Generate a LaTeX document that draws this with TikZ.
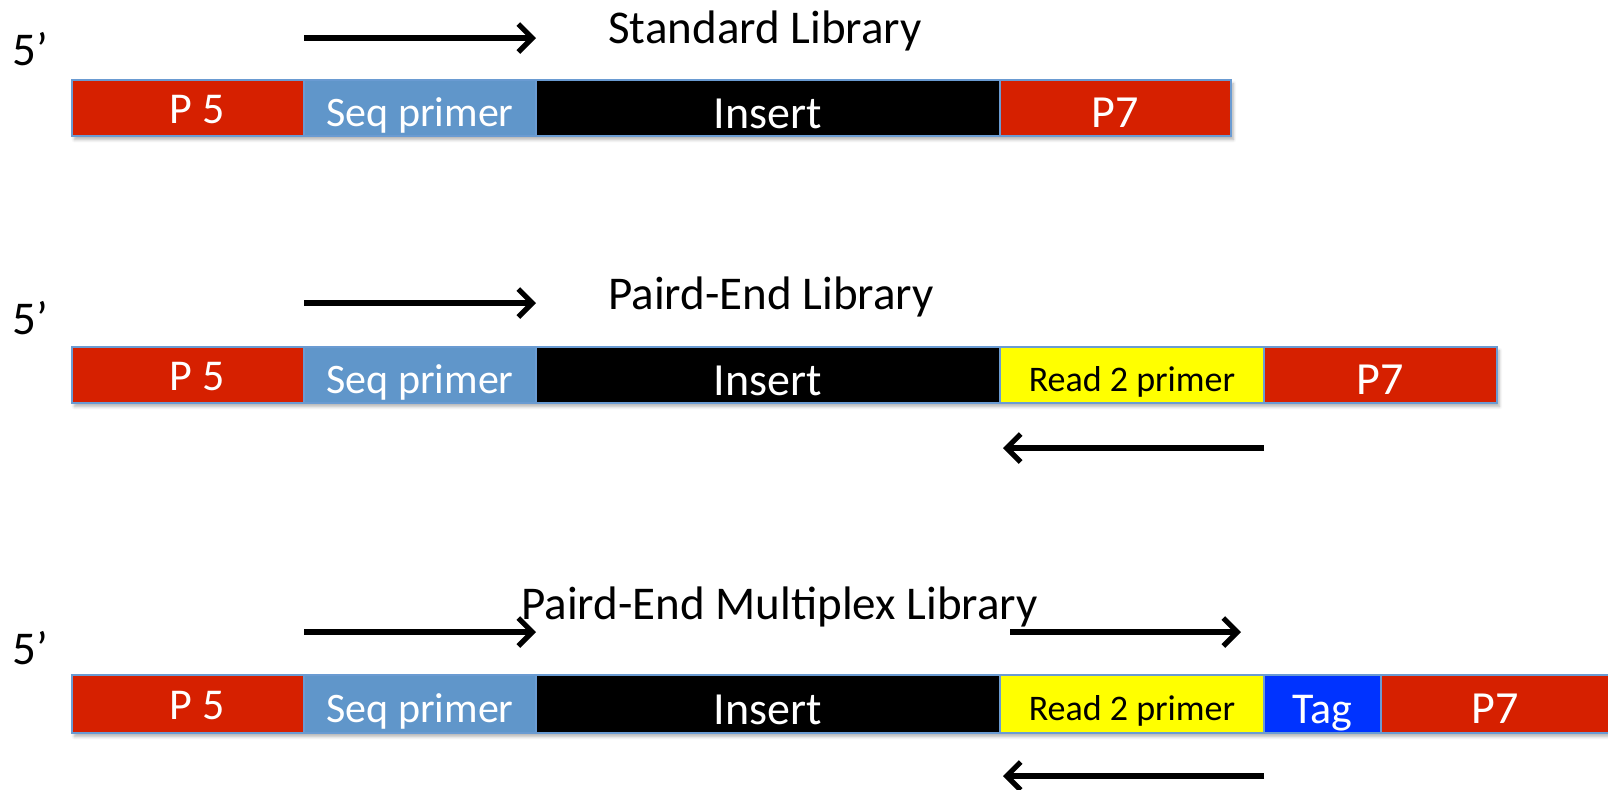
\documentclass[tikz,border=0pt]{standalone}
\usepackage{fontspec}
\setmainfont{Carlito}
\usetikzlibrary{arrows.meta,shadows.blur}
\definecolor{p5red}{RGB}{214,32,0}
\definecolor{seqblue}{RGB}{96,150,202}
\definecolor{tagblue}{RGB}{0,51,255}
\definecolor{edgeblue}{RGB}{106,155,210}
\definecolor{rdyellow}{RGB}{255,255,0}
\pgfdeclarelayer{bg}
\pgfsetlayers{bg,main}
\begin{document}
\begin{tikzpicture}[x=0.5pt,y=-0.5pt,
  seg/.style={draw=edgeblue, line width=0.9pt, minimum height=28pt, inner sep=0pt,
    outer sep=0pt, anchor=west, text=white, text height=20pt, text depth=0pt,
    font=\fontsize{23}{26}\selectfont},
  p5/.style={seg, fill=p5red, minimum width=116pt, text height=15.5pt, font=\fontsize{22}{25}\selectfont},
  seq/.style={seg, fill=seqblue, minimum width=116pt, text height=18.5pt, font=\fontsize{21}{24}\selectfont},
  ins/.style={seg, fill=black, minimum width=232pt},
  rd/.style={seg, fill=rdyellow, text=black, minimum width=132pt, text height=16pt, font=\fontsize{18}{21}\selectfont},
  tag/.style={seg, fill=tagblue, minimum width=58.5pt, text height=19.5pt, font=\fontsize{22}{25}\selectfont},
  p7/.style={seg, fill=p5red, text height=19pt},
  title/.style={anchor=west, inner sep=0pt, font=\fontsize{23.5}{27}\selectfont},
  prime/.style={inner sep=0pt, font=\fontsize{23.5}{27}\selectfont},
  arr/.style={line width=2.6pt, -{Straight Barb[length=7pt,width=14pt]}},
  barshadow/.style={fill=white, blur shadow={shadow xshift=1.2pt, shadow yshift=-1.8pt,
    shadow blur steps=5, shadow blur radius=1.5pt, shadow opacity=30}}]
\useasboundingbox (0,0) rectangle (1608,789);

% ---- Standard library ----
\node[prime] (s1) at (30,49) {5’};
\node[title] (t1) at (608,31) {Standard Library};
\node[p5] (a1) at (72,108) {\hspace*{9pt}P 5};
\node[seq] (a2) at (304,108) {Seq primer};
\node[ins] (a3) at (536,108) {Insert};
\node[p7, minimum width=115.5pt] (a4) at (1000,108) {P7};
\coordinate (a5) at (304,38);
\coordinate (a6) at (536,38);
\draw[arr] (a5) -- (a6);

% ---- Paired-end library ----
\node[prime] (s2) at (30,318) {5’};
\node[title] (t2) at (608,297) {Paird-End Library};
\node[p5] (b1) at (72,375) {\hspace*{9pt}P 5};
\node[seq] (b2) at (304,375) {Seq primer};
\node[ins] (b3) at (536,375) {Insert};
\node[rd] (b4) at (1000,375) {Read 2 primer};
\node[p7, minimum width=116.5pt] (b5) at (1264,375) {P7};
\coordinate (b6) at (304,303);
\coordinate (b7) at (536,303);
\draw[arr] (b6) -- (b7);
\coordinate (b8) at (1264,448);
\coordinate (b9) at (1003,448);
\draw[arr] (b8) -- (b9);

% ---- Paired-end multiplex library ----
\node[prime] (s3) at (30,648) {5’};
\node[title] (t3) at (521,607) {Paird-End Multiplex Library};
\node[p5, minimum height=29pt] (c1) at (72,704) {\hspace*{9pt}P 5};
\node[seq, minimum height=29pt] (c2) at (304,704) {Seq primer};
\node[ins, minimum height=29pt] (c3) at (536,704) {Insert};
\node[rd, minimum height=29pt] (c4) at (1000,704) {Read 2 primer};
\node[tag, minimum height=29pt] (c5) at (1264,704) {Tag};
\node[p7, minimum height=29pt, minimum width=114pt] (c6) at (1381,704) {P7};
\coordinate (c7) at (304,632);
\coordinate (c8) at (536,632);
\draw[arr] (c7) -- (c8);
\coordinate (c9) at (1010,632);
\coordinate (c10) at (1241,632);
\draw[arr] (c9) -- (c10);
\coordinate (c11) at (1264,776);
\coordinate (c12) at (1003,776);
\draw[arr] (c11) -- (c12);

% soft shadows under the three bars
\begin{pgfonlayer}{bg}
  \path[barshadow] (a1.north west) rectangle (a4.south east);
  \path[barshadow] (b1.north west) rectangle (b5.south east);
  \path[barshadow] (c1.north west) rectangle (c6.south east);
\end{pgfonlayer}
\end{tikzpicture}
\end{document}
